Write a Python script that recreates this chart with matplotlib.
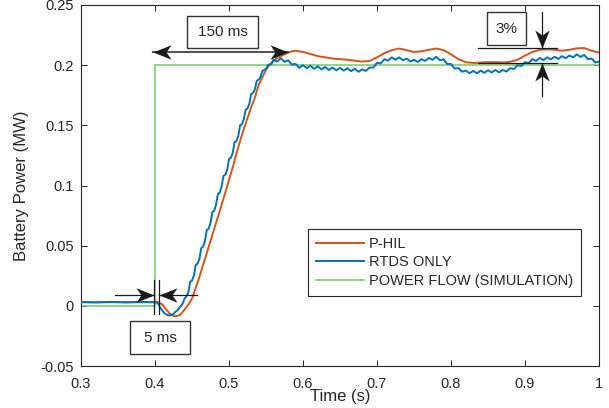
import numpy as np
import matplotlib
matplotlib.use("Agg")
import matplotlib.pyplot as plt
from matplotlib.path import Path
from matplotlib.patches import Rectangle

plt.rcParams['font.family'] = ['Liberation Sans', 'DejaVu Sans']

# ---------------- data ----------------
x_ticks = [0.3, 0.4, 0.5, 0.6, 0.7, 0.8, 0.9, 1.0]
x_ticklabels = ['0.3', '0.4', '0.5', '0.6', '0.7', '0.8', '0.9', '1']
y_ticks = [-0.05, 0.0, 0.05, 0.1, 0.15, 0.2, 0.25]
y_ticklabels = ['-0.05', '0', '0.05', '0.1', '0.15', '0.2', '0.25']

series_names = ['P-HIL', 'RTDS ONLY', 'POWER FLOW (SIMULATION)']

sim_t = [0.30, 0.40, 0.40, 1.00]
sim_p = [0.000, 0.000, 0.200, 0.200]

phil_t = [0.30, 0.35, 0.40, 0.405, 0.41, 0.415, 0.42, 0.425, 0.43, 0.435, 0.44,
          0.445, 0.45, 0.455, 0.46, 0.465, 0.47, 0.475, 0.48, 0.485, 0.49, 0.495,
          0.50, 0.505, 0.51, 0.515, 0.52, 0.525, 0.53, 0.535, 0.54, 0.545, 0.55,
          0.555, 0.56, 0.565, 0.57, 0.575, 0.58, 0.585, 0.59, 0.60, 0.62, 0.64,
          0.66, 0.68, 0.69, 0.70, 0.71, 0.72, 0.73, 0.74, 0.75, 0.76, 0.77, 0.78,
          0.79, 0.80, 0.81, 0.82, 0.83, 0.84, 0.85, 0.86, 0.87, 0.88, 0.89, 0.90,
          0.91, 0.92, 0.93, 0.94, 0.95, 0.96, 0.97, 0.98, 0.99, 1.00]
phil_p = [0.003, 0.003, 0.003, 0.003, 0.001, -0.003, -0.0065, -0.0085, -0.0085, -0.007, -0.003,
          0.001, 0.006, 0.015, 0.024, 0.034, 0.044, 0.054, 0.064, 0.074, 0.084, 0.094,
          0.105, 0.115, 0.1265, 0.137, 0.147, 0.156, 0.165, 0.173, 0.1835, 0.190, 0.196,
          0.2005, 0.2035, 0.206, 0.2075, 0.209, 0.2105, 0.2115, 0.212, 0.211, 0.2075, 0.2055,
          0.2045, 0.203, 0.2035, 0.2065, 0.210, 0.2125, 0.2138, 0.2125, 0.211, 0.2115, 0.2128, 0.2138,
          0.2125, 0.209, 0.205, 0.2025, 0.2018, 0.2022, 0.2025, 0.2025, 0.2022, 0.2028, 0.2045, 0.208,
          0.211, 0.2128, 0.2132, 0.2128, 0.212, 0.2128, 0.2140, 0.2142, 0.212, 0.2105]

rtds_t = [0.30, 0.32, 0.34, 0.36, 0.38, 0.40, 0.4025, 0.405, 0.4075, 0.41, 0.4125, 0.415,
          0.4175, 0.42, 0.4225, 0.425, 0.4275, 0.43, 0.4325, 0.435, 0.4375, 0.44, 0.4425,
          0.445, 0.4475, 0.45, 0.4525, 0.455, 0.4575, 0.46, 0.4625, 0.465, 0.4675, 0.47,
          0.4725, 0.475, 0.4775, 0.48, 0.4825, 0.485, 0.4875, 0.49, 0.4925, 0.495, 0.4975,
          0.50, 0.5025, 0.505, 0.5075, 0.51, 0.5125, 0.515, 0.5175, 0.52, 0.5225, 0.525,
          0.5275, 0.53, 0.5325, 0.535, 0.5375, 0.54, 0.5425, 0.545, 0.5475, 0.55, 0.5525,
          0.555, 0.5575,
          0.560, 0.565, 0.570, 0.575, 0.580, 0.585, 0.590, 0.595, 0.600, 0.605, 0.610,
          0.615, 0.620, 0.625, 0.630, 0.635, 0.640, 0.645, 0.650, 0.655, 0.660, 0.665,
          0.670, 0.675, 0.680, 0.685, 0.690, 0.695, 0.700, 0.705, 0.710, 0.715, 0.720,
          0.725, 0.730, 0.735, 0.740, 0.745, 0.750, 0.755, 0.760, 0.765, 0.770, 0.775,
          0.780, 0.785, 0.790, 0.795, 0.800, 0.805, 0.810, 0.815, 0.820, 0.825, 0.830,
          0.835, 0.840, 0.845, 0.850, 0.855, 0.860, 0.865, 0.870, 0.875, 0.880, 0.885,
          0.890, 0.895, 0.900, 0.905, 0.910, 0.915, 0.920, 0.925, 0.930, 0.935, 0.940,
          0.945, 0.950, 0.955, 0.960, 0.965, 0.970, 0.975, 0.980, 0.985, 0.990, 0.995,
          1.000]
rtds_p = [0.0032, 0.0028, 0.0033, 0.0029, 0.0032, 0.003, 0.003, 0.001, -0.002, -0.004, -0.006, -0.007,
          -0.0078, -0.008, -0.0075, -0.0068, -0.005, -0.004, -0.002, 0.000, 0.002, 0.006, 0.008,
          0.011, 0.020, 0.021, 0.025, 0.034, 0.035, 0.039, 0.048, 0.049, 0.054, 0.063,
          0.064, 0.069, 0.078, 0.079, 0.084, 0.093, 0.094, 0.099, 0.108, 0.109, 0.113,
          0.122, 0.123, 0.127, 0.136, 0.137, 0.141, 0.150, 0.151, 0.155, 0.163, 0.164,
          0.168, 0.176, 0.177, 0.180, 0.187, 0.188, 0.190, 0.195, 0.196, 0.197, 0.200,
          0.2005, 0.201,
          0.2045, 0.2030, 0.2058, 0.2028, 0.2040, 0.2005, 0.2010, 0.1978, 0.2000, 0.1975, 0.1995,
          0.1970, 0.1990, 0.1965, 0.1985, 0.1960, 0.1980, 0.1957, 0.1978, 0.1955, 0.1975, 0.1950,
          0.1970, 0.1945, 0.1965, 0.1952, 0.1980, 0.1980, 0.2020, 0.2015, 0.2050, 0.2038, 0.2065,
          0.2045, 0.2065, 0.2040, 0.2055, 0.2030, 0.2045, 0.2027, 0.2050, 0.2035, 0.2060, 0.2045,
          0.2070, 0.2040, 0.2050, 0.2010, 0.2010, 0.1972, 0.1975, 0.1945, 0.1955, 0.1933, 0.1952,
          0.1933, 0.1955, 0.1936, 0.1958, 0.1939, 0.1960, 0.1940, 0.1960, 0.1947, 0.1975, 0.1968,
          0.2000, 0.1993, 0.2025, 0.2018, 0.2050, 0.2035, 0.2060, 0.2042, 0.2065, 0.2048, 0.2070,
          0.2052, 0.2075, 0.2058, 0.2080, 0.2065, 0.2090, 0.2068, 0.2085, 0.2050, 0.2055, 0.2022,
          0.2030]

# ---------------- style ----------------
C_RED = '#D95319'
C_BLUE = '#0072BD'
C_GREEN = '#6FCB63'
C_AX = '#262626'
FS = 10.5

fig = plt.figure(figsize=(6.09, 4.08), dpi=100)
ax = fig.add_axes([81 / 609, 1 - 366 / 408, 518 / 609, 361 / 408])

l_sim, = ax.plot(sim_t, sim_p, color=C_GREEN, lw=1.1, zorder=2)
l_phil, = ax.plot(phil_t, phil_p, color=C_RED, lw=1.4, zorder=3)
l_rtds, = ax.plot(rtds_t, rtds_p, color=C_BLUE, lw=1.4, zorder=4)

ax.set_xlim(0.3, 1.0)
ax.set_ylim(-0.05, 0.25)
ax.set_xticks(x_ticks)
ax.set_xticklabels(x_ticklabels)
ax.set_yticks(y_ticks)
ax.set_yticklabels(y_ticklabels)
ax.tick_params(direction='in', length=4, width=0.7, colors=C_AX, labelsize=FS,
               top=True, right=True)
ax.tick_params(axis='x', pad=8)
ax.tick_params(axis='y', pad=5)
for s in ax.spines.values():
    s.set_color(C_AX)
    s.set_linewidth(0.8)

ax.set_xlabel('Time (s)', fontsize=12, color=C_AX)
ax.set_ylabel('Battery Power (MW)', fontsize=12, color=C_AX)
ax.xaxis.set_label_coords(0.5, (366 - 397) / 361)
ax.xaxis.label.set_va('center')
ax.yaxis.set_label_coords((22 - 81) / 518, 0.5)
ax.yaxis.label.set_va('center')

leg = ax.legend([l_phil, l_rtds, l_sim], series_names, loc='upper left',
                bbox_to_anchor=((308 - 81) / 518, (366 - 229) / 361),
                borderaxespad=0, fontsize=FS, handlelength=3.3, handletextpad=0.35,
                labelspacing=0.3, borderpad=0.55, fancybox=False, framealpha=1,
                edgecolor=C_AX)
leg.get_frame().set_linewidth(0.8)
for t in leg.get_texts():
    t.set_color(C_AX)


# ---------------- annotations ----------------
def head_path(angle_deg):
    v = np.array([[0, 0], [-1, 0.4], [-0.72, 0], [-1, -0.4], [0, 0]])
    a = np.deg2rad(angle_deg)
    R = np.array([[np.cos(a), -np.sin(a)], [np.sin(a), np.cos(a)]])
    v = v @ R.T
    return Path(v, [Path.MOVETO, Path.LINETO, Path.LINETO, Path.LINETO, Path.CLOSEPOLY])


HEAD_MS = 26


def head(x, y, angle):
    ax.plot([x], [y], marker=head_path(angle), ms=HEAD_MS, color='#1a1a1a',
            mec='#1a1a1a', mew=0, ls='none', zorder=6, clip_on=False)


def box(x0, x1, y0, y1, text, tx, ty):
    ax.add_patch(Rectangle((x0, y0), x1 - x0, y1 - y0, facecolor='white',
                           edgecolor='#333333', lw=1.0, zorder=6, clip_on=False))
    ax.text(tx, ty, text, fontsize=FS + 0.5, color=C_AX, ha='center', va='center',
            zorder=7)


# 150 ms
ax.plot([0.3973, 0.5797], [0.2106, 0.2106], color='#555555', lw=1.5, zorder=5)
head(0.3973, 0.2106, 180)
head(0.5797, 0.2106, 0)
box(0.4432, 0.5392, 0.2142, 0.2408, '150 ms', 0.4912, 0.2275)

# 3 %
ax.plot([0.8365, 0.943], [0.2142, 0.2142], color='#1a1a1a', lw=0.9, zorder=5)
ax.plot([0.8365, 0.943], [0.2014, 0.2014], color='#1a1a1a', lw=0.9, zorder=5)
ax.plot([0.9226, 0.9226], [0.2439, 0.2142], color='#1a1a1a', lw=0.9, zorder=5)
ax.plot([0.9226, 0.9226], [0.1744, 0.2014], color='#1a1a1a', lw=0.9, zorder=5)
head(0.9226, 0.2142, -90)
head(0.9226, 0.2014, 90)
box(0.8482, 0.9013, 0.2169, 0.2439, '3%', 0.8743, 0.2304)

# 5 ms
ax.plot([0.3986, 0.3986], [0.0217, -0.0069], color='#1a1a1a', lw=0.9, zorder=5)
ax.plot([0.4058, 0.4058], [0.0217, -0.0069], color='#1a1a1a', lw=0.9, zorder=5)
ax.plot([0.346, 0.3986], [0.0092, 0.0092], color='#1a1a1a', lw=0.9, zorder=5)
ax.plot([0.4564, 0.4058], [0.0092, 0.0092], color='#1a1a1a', lw=0.9, zorder=5)
head(0.3986, 0.0092, 0)
head(0.4058, 0.0092, 180)
box(0.3662, 0.4473, -0.0403, -0.0125, '5 ms', 0.4068, -0.0264)

fig.savefig('out.png', dpi=100)
